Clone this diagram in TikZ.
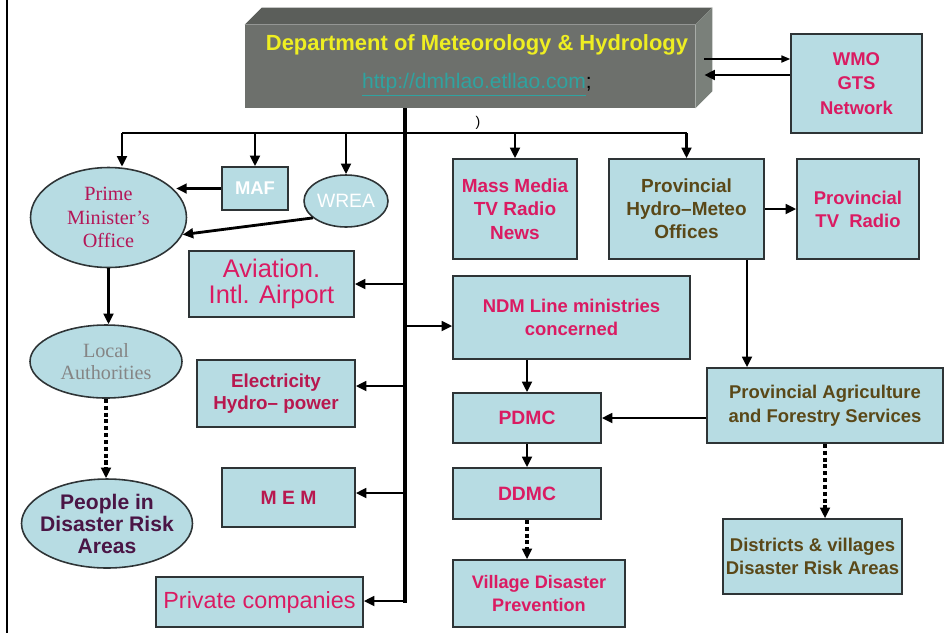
\documentclass[tikz,border=0pt]{standalone}
\usepackage{fontspec}
\setmainfont{Liberation Sans}
\newfontfamily\officefont{Liberation Serif}
\usetikzlibrary{calc, shapes.geometric, arrows.meta}

\begin{document}
\begin{tikzpicture}[x=0.02cm, y=-0.02cm,
    infobox/.style={rectangle, draw=boxBorder, fill=boxFill, line width=0.9pt,
        align=center, inner sep=1pt, text=textPink,
        font=\bfseries\fontsize{10.5}{13.5}\selectfont},
    infoellipse/.style={ellipse, draw=boxBorder, fill=boxFill, line width=0.9pt,
        align=center, inner sep=0pt},
    feed/.style={line width=1.6pt, -{Triangle[length=6pt, width=5.5pt]}},
    thinfeed/.style={line width=0.9pt, -{Triangle[length=5pt, width=4pt]}},
    dotfeed/.style={feed, line width=2.3pt, dash pattern=on 2.3pt off 1.6pt},
    busline/.style={line width=1.6pt},
    trunkline/.style={line width=2.8pt}]

    % Define colours
    \definecolor{boxFill}{HTML}{B7DCE3}
    \definecolor{boxBorder}{HTML}{2E3436}
    \definecolor{textPink}{HTML}{DA1B62}
    \definecolor{textDeep}{HTML}{B8184F}
    \definecolor{textBrown}{HTML}{5A4818}
    \definecolor{officeRed}{HTML}{B41657}
    \definecolor{localGray}{HTML}{858585}
    \definecolor{peoplePurple}{HTML}{4A1545}
    \definecolor{headFront}{HTML}{6D706C}
    \definecolor{headTop}{HTML}{5B5E5A}
    \definecolor{headSide}{HTML}{7A807A}
    \definecolor{titleYellow}{HTML}{EEEE22}
    \definecolor{linkTeal}{HTML}{2FA3A0}

    % Fix picture size
    \useasboundingbox (0,0) rectangle (952,633);

    % Draw page frame
    \draw[line width=1.6pt] (7,0) -- (7,633);

    % Draw header block
    \node[fill=headFront, minimum width=9cm, minimum height=1.66cm, inner sep=0pt] (dmh) at (470,66.5) {};
    \fill[headTop] (dmh.north west) -- ++(17,-17) -- ($(dmh.north east)+(17,-17)$) -- (dmh.north east) -- cycle;
    \fill[headSide] (dmh.north east) -- ++(17,-17) -- ($(dmh.south east)+(17,-17)$) -- (dmh.south east) -- cycle;
    \node[font=\bfseries\fontsize{12.5}{12.5}\selectfont, text=titleYellow] (dmhtitle) at (477,45) {Department of Meteorology \& Hydrology};
    \node[font=\fontsize{12}{12}\selectfont, text=linkTeal] (dmhlink) at (477,85) {\underline{http://dmhlao.etllao.com}\textcolor{black}{;}};

    % Draw boxes
    \node[infobox, minimum width=2.62cm, minimum height=1.98cm, font=\bfseries\fontsize{10.5}{14}\selectfont] (wmo) at (856.5,83.5) {WMO\\GTS\\Network};
    \node[infoellipse, minimum width=3.12cm, minimum height=2cm, text=officeRed, font=\officefont\fontsize{11.5}{13.3}\selectfont] (pmo) at (108.5,217.5) {Prime\\Minister’s\\Office};
    \node[infobox, minimum width=1.32cm, minimum height=0.86cm, text=white] (maf) at (255,188.5) {MAF};
    \node[infoellipse, minimum width=1.68cm, minimum height=1.04cm, text=white, font=\fontsize{11}{13}\selectfont] (wrea) at (346,201) {WREA};
    \node[infobox, minimum width=3.3cm, minimum height=1.32cm, font=\fontsize{14.5}{14.5}\selectfont] (aviation) at (271.5,284) {Aviation.\\Intl. Airport};
    \node[infoellipse, minimum width=3.04cm, minimum height=1.46cm, text=localGray, font=\officefont\fontsize{11.5}{13}\selectfont] (local) at (106,361.5) {Local\\Authorities};
    \node[infoellipse, minimum width=3.42cm, minimum height=1.78cm, inner sep=-5pt, text=peoplePurple, font=\bfseries\fontsize{12}{12.5}\selectfont] (people) at (107,523.5) {People in\\Disaster Risk\\Areas};
    \node[infobox, minimum width=3.16cm, minimum height=1.34cm, text=textDeep, font=\bfseries\fontsize{10.7}{12.5}\selectfont] (elec) at (276,393.5) {Electricity\\Hydro-- power};
    \node[infobox, minimum width=2.66cm, minimum height=1.18cm, text=textDeep, font=\bfseries\fontsize{11}{12}\selectfont] (mem) at (288.5,497.5) {M E M};
    \node[infobox, minimum width=4.14cm, minimum height=1cm, font=\fontsize{13.3}{13.3}\selectfont] (private) at (259.5,602) {Private companies};
    \node[infobox, minimum width=2.48cm, minimum height=2cm, font=\bfseries\fontsize{10.8}{13.5}\selectfont] (media) at (515,209) {Mass Media\\TV Radio\\News};
    \node[infobox, minimum width=3.1cm, minimum height=2cm, text=textBrown, font=\bfseries\fontsize{10.8}{13}\selectfont] (hydro) at (686.5,209) {Provincial\\Hydro--Meteo\\Offices};
    \node[infobox, minimum width=2.44cm, minimum height=2cm, font=\bfseries\fontsize{10.5}{13}\selectfont] (provtv) at (858,209) {Provincial\\TV~~Radio};
    \node[infobox, minimum width=4.74cm, minimum height=1.66cm] (ndm) at (571.5,317.5) {NDM Line ministries\\concerned};
    \node[infobox, minimum width=4.72cm, minimum height=1.5cm, text=textBrown] (agri) at (825,405.5) {Provincial Agriculture\\and Forestry Services};
    \node[infobox, minimum width=2.96cm, minimum height=1cm, font=\bfseries\fontsize{11}{12}\selectfont] (pdmc) at (527,418) {PDMC};
    \node[infobox, minimum width=2.96cm, minimum height=1.02cm, font=\bfseries\fontsize{11}{12}\selectfont] (ddmc) at (527,493.5) {DDMC};
    \node[infobox, minimum width=3.44cm, minimum height=1.34cm, font=\bfseries\fontsize{10.3}{13}\selectfont] (village) at (539,593.5) {Village Disaster\\Prevention};
    \node[infobox, minimum width=3.58cm, minimum height=1.5cm, text=textBrown, inner sep=0pt] (districts) at (812.5,556.5) {Districts \& villages\\Disaster Risk Areas};
    \node[font=\fontsize{8}{8}\selectfont] (stray) at (478,123) {)};

    % Draw links to WMO
    \coordinate (dmhoutA) at ($(dmh.east)+(9,-7.5)$);
    \coordinate (dmhoutB) at ($(dmh.east)+(9,8.5)$);
    \draw[thinfeed] (dmhoutA) -- (dmhoutA -| wmo.west);
    \draw[feed] (dmhoutB -| wmo.west) -- (dmhoutB);

    % Draw trunk and bus
    \coordinate (trunktop) at (405,108);
    \coordinate (trunkbot) at (405,603);
    \coordinate (busleft) at (122,133);
    \draw[trunkline] (trunktop) -- (trunkbot);
    \draw[busline] (busleft) -- (busleft -| hydro.north);

    % Draw bus drops
    \draw[feed] (busleft) -- (busleft |- pmo.north);
    \foreach \n in {maf, wrea, media, hydro}
        \draw[feed] (\n.north |- busleft) -- (\n.north);

    % Draw trunk outputs
    \foreach \n/\dy in {aviation/0, elec/-7.5, mem/-4.5, private/-1}
    {
        \coordinate (\n in) at ($(\n.east)+(0,\dy)$);
        \draw[feed] (\n in -| trunkbot) -- (\n in);
    }
    \coordinate (ndm in) at ($(ndm.west)+(0,8.5)$);
    \draw[feed] (ndm in -| trunkbot) -- (ndm in);

    % Draw left column links
    \draw[feed] (maf.west) -- (maf.west -| pmo.21);
    \draw[feed] (wrea.207) -- (pmo.-13);
    \draw[feed] (pmo.south) -- (pmo.south |- local.north);
    \draw[dotfeed] (local.south) -- (local.south |- people.north);

    % Draw right column links
    \coordinate (hydrodrop) at ($(hydro.south)+(60.5,0)$);
    \draw[feed] (hydro.east) -- (provtv.west);
    \draw[feed] (hydrodrop) -- (hydrodrop |- agri.north);
    \draw[feed] (agri.west |- pdmc.east) -- (pdmc.east);
    \draw[feed] (pdmc.north |- ndm.south) -- (pdmc.north);
    \draw[feed] (pdmc.south) -- (ddmc.north);
    \draw[dotfeed] (ddmc.south) -- (ddmc.south |- village.north);
    \draw[dotfeed] (agri.south) -- (agri.south |- districts.north);

\end{tikzpicture}
\end{document}
